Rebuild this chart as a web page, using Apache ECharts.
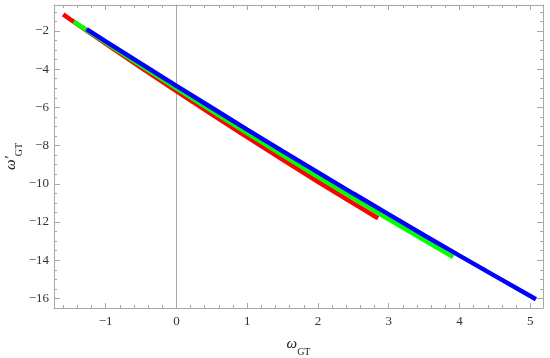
<!DOCTYPE html>
<html>
<head>
<meta charset="utf-8">
<script src="https://cdn.jsdelivr.net/npm/echarts@6/dist/echarts.min.js"></script>
<style>
  html, body { margin: 0; padding: 0; background: #fff; }
  #chart { width: 550px; height: 358px; }
</style>
</head>
<body>
<div id="chart"></div>
<script>
// axis ranges and tick labels
var xMin = -1.73, xMax = 5.18;
var yMin = -16.5, yMax = -0.64;
var xMajorTicks = [-1, 0, 1, 2, 3, 4, 5];
var yMajorTicks = [-16, -14, -12, -10, -8, -6, -4, -2];

// curves (omega_GT -> omega'_GT)
var redX = [-1.6, -1.5, -1, -0.5, 0, 0.5, 1, 1.5, 2, 2.5, 2.85];
var redY = [-1.13, -1.39, -2.66, -3.92, -5.15, -6.36, -7.56, -8.73, -9.89, -11.02, -11.80];
var greenX = [-1.45, -1, -0.5, 0, 0.5, 1, 1.5, 2, 2.5, 3, 3.5, 3.91];
var greenY = [-1.51, -2.61, -3.81, -5.0, -6.18, -7.34, -8.49, -9.63, -10.75, -11.86, -12.95, -13.84];
var blueX = [-1.27, -1, -0.5, 0, 0.5, 1, 1.5, 2, 2.5, 3, 3.5, 4, 4.5, 5, 5.08];
var blueY = [-1.90, -2.54, -3.71, -4.87, -6.02, -7.16, -8.29, -9.40, -10.51, -11.60, -12.69, -13.76, -14.82, -15.87, -16.04];

var frame = '#a8a8a8';
var font = 'Liberation Serif';

function minorTicks(lo, hi, step, majors) {
    var out = [];
    for (var k = Math.ceil(lo / step); k * step <= hi; k++) {
        var v = Math.round(k * step * 100) / 100;
        if (majors.indexOf(v) < 0) out.push(v);
    }
    return out;
}
var xMinorTicks = minorTicks(xMin, xMax, 0.2, xMajorTicks);
var yMinorTicks = minorTicks(yMin + 0.1, yMax, 0.5, yMajorTicks);

function fmt(v) {
    return String(v).replace('-', '\u2212');
}

function axis(dim, pos, ticks, len, showLine, showLabel) {
    var a = {
        type: 'value',
        position: pos,
        min: dim === 'x' ? xMin : yMin,
        max: dim === 'x' ? xMax : yMax,
        splitLine: {show: false},
        axisLine: {show: showLine, onZero: false, lineStyle: {color: frame, width: 1}},
        axisTick: {show: true, inside: true, length: len, customValues: ticks,
            lineStyle: {color: frame, width: 1}},
        axisLabel: {show: showLabel, customValues: ticks, formatter: fmt,
            fontFamily: font, fontSize: 13, color: '#333', margin: dim === 'x' ? 7 : 5}
    };
    return a;
}

var nameRich = {
    w: {fontFamily: font, fontStyle: 'italic', fontSize: 15, color: '#222', verticalAlign: 'top', lineHeight: 20},
    s: {fontFamily: font, fontSize: 10, color: '#222', verticalAlign: 'bottom', lineHeight: 12}
};

var xBottom = axis('x', 'bottom', xMajorTicks, 5, true, true);
xBottom.name = '{w|ω}{s|GT}';
xBottom.nameLocation = 'middle';
xBottom.nameGap = 29;
xBottom.nameMoveOverlap = false;
xBottom.nameTextStyle = {rich: nameRich};

var yLeft = axis('y', 'left', yMajorTicks, 6, true, true);
yLeft.name = '{w|ω′}{s|GT}';
yLeft.nameLocation = 'middle';
yLeft.nameRotate = 90;
yLeft.nameGap = 30;
yLeft.nameMoveOverlap = false;
yLeft.nameTextStyle = {rich: nameRich};

// vertical axis line through omega_GT = 0
var yZero = {
    type: 'value', position: 'left', min: yMin, max: yMax,
    splitLine: {show: false},
    axisLine: {show: true, onZero: true, onZeroAxisIndex: 0, lineStyle: {color: frame, width: 1}},
    axisTick: {show: false},
    axisLabel: {show: false}
};

var chart = echarts.init(document.getElementById('chart'));
chart.setOption({
    animation: false,
    backgroundColor: '#fff',
    grid: {left: 54, right: 7, top: 5, bottom: 50, containLabel: false, outerBoundsMode: 'none'},
    xAxis: [
        xBottom,
        axis('x', 'bottom', xMinorTicks, 3, false, false),
        axis('x', 'top', xMajorTicks, 5, true, false),
        axis('x', 'top', xMinorTicks, 3, false, false)
    ],
    yAxis: [
        yLeft,
        axis('y', 'left', yMinorTicks, 3, false, false),
        axis('y', 'right', yMajorTicks, 6, true, false),
        axis('y', 'right', yMinorTicks, 3, false, false),
        yZero
    ],
    series: [
        {type: 'line', name: 'red', xAxisIndex: 0, yAxisIndex: 0, showSymbol: false, symbol: 'none',
            lineStyle: {color: '#ff0000', width: 4.5},
            data: redX.map(function (x, i) { return [x, redY[i]]; })},
        {type: 'line', name: 'green', xAxisIndex: 0, yAxisIndex: 0, showSymbol: false, symbol: 'none',
            lineStyle: {color: '#00ff00', width: 4.5},
            data: greenX.map(function (x, i) { return [x, greenY[i]]; })},
        {type: 'line', name: 'blue', xAxisIndex: 0, yAxisIndex: 0, showSymbol: false, symbol: 'none',
            lineStyle: {color: '#0000ff', width: 4.5},
            data: blueX.map(function (x, i) { return [x, blueY[i]]; })}
    ]
});
</script>
</body>
</html>
